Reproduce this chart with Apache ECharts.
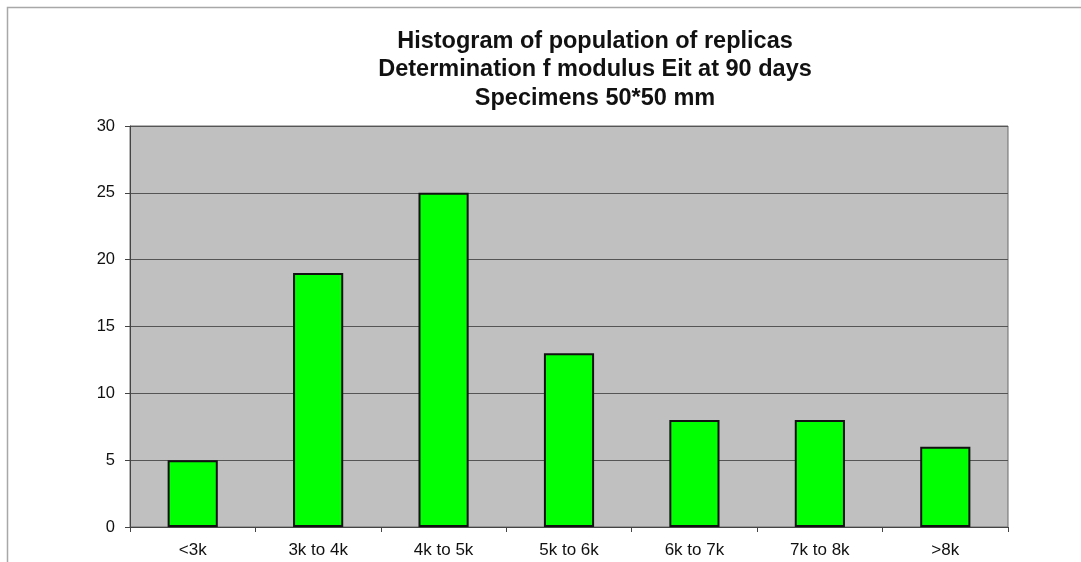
<!DOCTYPE html>
<html><head><meta charset="utf-8">
<script src="https://cdn.jsdelivr.net/npm/echarts@6/dist/echarts.min.js"></script>
<style>html,body{margin:0;padding:0;background:#fff}#c{width:1081px;height:562px}</style>
</head><body><div id="c"></div>
<script>
const categories = ['<3k','3k to 4k','4k to 5k','5k to 6k','6k to 7k','7k to 8k','>8k'];
const counts = [5, 19, 25, 13, 8, 8, 6];
const titleLines = ['Histogram of population of replicas','Determination f modulus Eit at 90 days','Specimens 50*50 mm'];
const yTicks = {min: 0, max: 30, interval: 5};

const chart = echarts.init(document.getElementById('c'));
chart.setOption({
  animation: false,
  backgroundColor: '#fff',
  title: {
    text: titleLines.join('\n'),
    left: 590, top: 22, textAlign: 'center',
    textStyle: {fontFamily: 'Liberation Sans, Arial', fontWeight: 'bold', fontSize: 23.5, lineHeight: 28.5, color: '#111'}
  },
  graphic: [{type: 'rect', shape: {x: 7.5, y: 7.5, width: 1200, height: 700}, style: {fill: 'none', stroke: '#a8a8a8', lineWidth: 1.5}, silent: true}],
  grid: {left: 130, right: 73, top: 126, bottom: 35, show: true, backgroundColor: '#c0c0c0', borderColor: '#6a6a6a', borderWidth: 1},
  xAxis: {
    type: 'category', data: categories,
    axisLine: {lineStyle: {color: '#444', width: 1}},
    axisTick: {show: true, length: 5, alignWithLabel: false, lineStyle: {color: '#444'}},
    axisLabel: {fontFamily: 'Liberation Sans, Arial', fontSize: 17, color: '#111', margin: 15},
    splitLine: {show: false}
  },
  yAxis: {
    type: 'value', min: yTicks.min, max: yTicks.max, interval: yTicks.interval,
    axisLine: {show: true, lineStyle: {color: '#444', width: 1}},
    axisTick: {show: true, length: 5, lineStyle: {color: '#444'}},
    axisLabel: {fontFamily: 'Liberation Sans, Arial', fontSize: 16.5, color: '#111', margin: 15},
    splitLine: {show: true, lineStyle: {color: '#555', width: 1}}
  },
  series: [{
    type: 'bar', data: counts, barWidth: '40%',
    itemStyle: {color: '#00ff00', borderColor: '#111', borderWidth: 2}
  }]
});
</script></body></html>
